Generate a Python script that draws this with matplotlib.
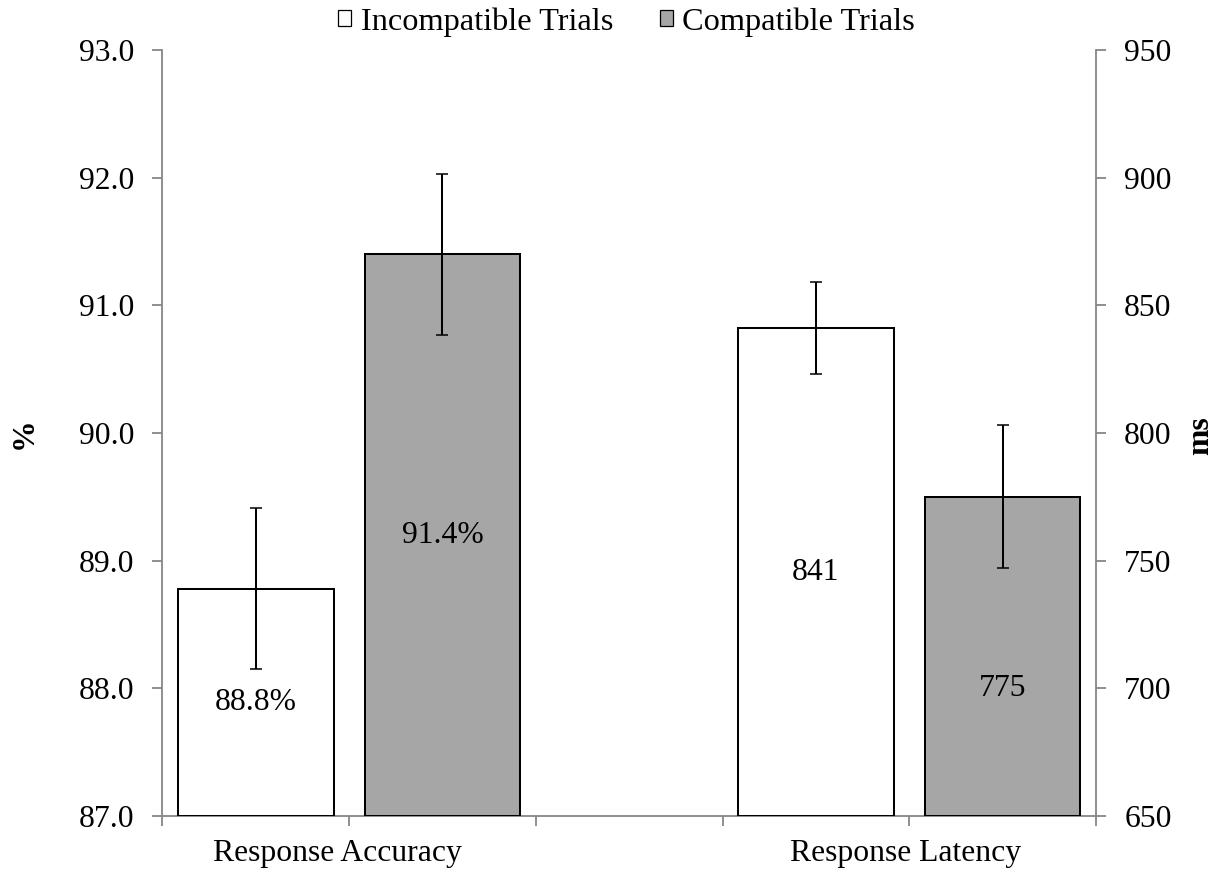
#!/usr/bin/env python3
"""Response accuracy (%) and latency (ms) for incompatible vs compatible trials."""

import matplotlib

matplotlib.use("Agg")
import matplotlib.pyplot as plt
import matplotlib.transforms as mtransforms
import numpy as np
from matplotlib.patches import Patch

series = ["Incompatible Trials", "Compatible Trials"]
categories = ["Response Accuracy", "Response Latency"]

accuracy = [88.78, 91.40]  # %
accuracy_err = [0.63, 0.63]
latency = [841, 775]  # ms
latency_err = [18, 28]

left_ticks = [87.0, 88.0, 89.0, 90.0, 91.0, 92.0, 93.0]
right_ticks = [650, 700, 750, 800, 850, 900, 950]

FILL = ["#FFFFFF", "#A6A6A6"]
SPINE = "#868686"
FS = 22.8

plt.rcParams["font.family"] = ["Liberation Serif", "DejaVu Serif"]


def main() -> None:
    fig = plt.figure(figsize=(12.18, 8.8), dpi=100)
    ax = fig.add_axes([0.1333, 0.0727, 0.7666, 0.8705])
    ax2 = ax.twinx()

    width = 0.833
    group_start = [0, 3]
    err_kw = dict(ecolor="black", elinewidth=1.45, capsize=4.3, capthick=1.1, zorder=4)

    x_acc = group_start[0] + 0.5 + np.arange(2)
    x_lat = group_start[1] + 0.5 + np.arange(2)
    ax.bar(x_acc, np.array(accuracy) - left_ticks[0], width, bottom=left_ticks[0],
           color=FILL, edgecolor="black", linewidth=1.45, zorder=3)
    ax.errorbar(x_acc, accuracy, yerr=accuracy_err, fmt="none", **err_kw)
    ax2.bar(x_lat, np.array(latency) - right_ticks[0], width, bottom=right_ticks[0],
            color=FILL, edgecolor="black", linewidth=1.45, zorder=3)
    ax2.errorbar(x_lat, latency, yerr=latency_err, fmt="none", **err_kw)

    # value labels inside bars (the 775 label sits a little lower, as in the source)
    for x, v in zip(x_acc, accuracy):
        ax.text(x, (left_ticks[0] + v) / 2, f"{v:.1f}%", ha="center", va="center",
                fontsize=FS, zorder=5)
    lat_shift = [0, -12.5]
    for x, v, s in zip(x_lat, latency, lat_shift):
        ax2.text(x, (right_ticks[0] + v) / 2 + s, f"{v:.0f}", ha="center", va="center",
                 fontsize=FS, zorder=5)

    ax.set_xlim(0, 5)
    ax.set_ylim(left_ticks[0], left_ticks[-1])
    ax2.set_ylim(right_ticks[0], right_ticks[-1])
    ax.set_yticks(left_ticks)
    ax.set_yticklabels([f"{t:.1f}" for t in left_ticks])
    ax2.set_yticks(right_ticks)
    ax2.set_yticklabels([f"{t}" for t in right_ticks])
    ax.set_xticks(np.arange(6))
    ax.set_xticklabels([])

    for a in (ax, ax2):
        a.spines["top"].set_visible(False)
        for side in ("left", "right", "bottom"):
            a.spines[side].set_color(SPINE)
            a.spines[side].set_linewidth(1.3)
        a.tick_params(axis="both", direction="out", length=7.2, width=1.3, color=SPINE,
                      labelsize=FS, pad=13)
    ax.spines["right"].set_visible(False)
    ax2.spines["left"].set_visible(False)
    ax2.spines["bottom"].set_visible(False)

    # category labels under the axis
    trans = mtransforms.blended_transform_factory(ax.transData, fig.transFigure)
    for x, name in zip([0.935, 3.98], categories):
        ax.text(x, 0.030, name, transform=trans, ha="center", va="center", fontsize=FS)

    fig.text(0.020, 0.508, "%", rotation=90, ha="center", va="center",
             fontsize=FS, fontweight="bold")
    fig.text(0.986, 0.505, "ms", rotation=90, ha="center", va="center",
             fontsize=FS, fontweight="bold")

    handles = [Patch(facecolor=c, edgecolor="black", linewidth=0.9) for c in FILL]
    fig.legend(handles, series, loc="center", bbox_to_anchor=(0.5144, 0.975), ncol=2,
               frameon=False, fontsize=23.3, handlelength=0.4, handleheight=0.4,
               handletextpad=0.3, columnspacing=1.45, borderpad=0, borderaxespad=0)

    fig.savefig("out.png", dpi=100)
    plt.close(fig)


if __name__ == "__main__":
    main()
